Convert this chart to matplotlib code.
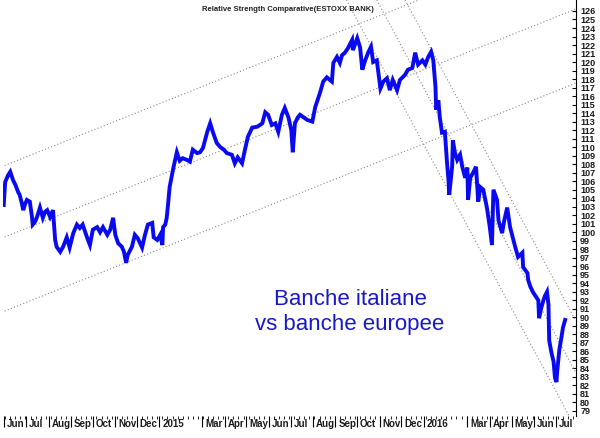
import matplotlib
matplotlib.use("Agg")
import matplotlib.pyplot as plt
import matplotlib.dates as mdates
from matplotlib.transforms import ScaledTranslation
import pandas as pd

# Relative strength: Italian banks vs ESTOXX BANK
dates = [
    "2014-05-31", "2014-06-02", "2014-06-06", "2014-06-09", "2014-06-13", "2014-06-16",
    "2014-06-20", "2014-06-22", "2014-06-25", "2014-06-27", "2014-06-29", "2014-07-02",
    "2014-07-06", "2014-07-09", "2014-07-10", "2014-07-13", "2014-07-16", "2014-07-20",
    "2014-07-24", "2014-07-27", "2014-07-30", "2014-08-03", "2014-08-07", "2014-08-08",
    "2014-08-10", "2014-08-12", "2014-08-17", "2014-08-21", "2014-08-26", "2014-08-30",
    "2014-09-04", "2014-09-09", "2014-09-13", "2014-09-17", "2014-09-23", "2014-09-27",
    "2014-10-01", "2014-10-07", "2014-10-11", "2014-10-15", "2014-10-21", "2014-10-25",
    "2014-10-29", "2014-11-01", "2014-11-05", "2014-11-10", "2014-11-13", "2014-11-16",
    "2014-11-18", "2014-11-24", "2014-11-28", "2014-12-02", "2014-12-08", "2014-12-12",
    "2014-12-16", "2014-12-22", "2014-12-24", "2014-12-29", "2015-01-02", "2015-01-05",
    "2015-01-06", "2015-01-09", "2015-01-11", "2015-01-13", "2015-01-15", "2015-01-20",
    "2015-01-25", "2015-01-29", "2015-02-02", "2015-02-08", "2015-02-12", "2015-02-16",
    "2015-02-22", "2015-02-26", "2015-03-02", "2015-03-08", "2015-03-12", "2015-03-16",
    "2015-03-21", "2015-03-26", "2015-03-31", "2015-04-04", "2015-04-11", "2015-04-15",
    "2015-04-19", "2015-04-25", "2015-04-29", "2015-05-03", "2015-05-09", "2015-05-16",
    "2015-05-23", "2015-05-27", "2015-05-31", "2015-06-05", "2015-06-10", "2015-06-14",
    "2015-06-19", "2015-06-23", "2015-06-28", "2015-07-02", "2015-07-04", "2015-07-07",
    "2015-07-11", "2015-07-14", "2015-07-24", "2015-07-31", "2015-08-04", "2015-08-11",
    "2015-08-15", "2015-08-20", "2015-08-27", "2015-08-29", "2015-09-03", "2015-09-07",
    "2015-09-10", "2015-09-14", "2015-09-18", "2015-09-24", "2015-09-25", "2015-10-01",
    "2015-10-05", "2015-10-08", "2015-10-12", "2015-10-16", "2015-10-20", "2015-10-23",
    "2015-10-28", "2015-11-02", "2015-11-06", "2015-11-11", "2015-11-15", "2015-11-19",
    "2015-11-25", "2015-11-29", "2015-12-06", "2015-12-10", "2015-12-16", "2015-12-20",
    "2015-12-24", "2015-12-30", "2016-01-03", "2016-01-07", "2016-01-11", "2016-01-14",
    "2016-01-17", "2016-01-18", "2016-01-21", "2016-01-23", "2016-01-26", "2016-01-30",
    "2016-02-02", "2016-02-04", "2016-02-05", "2016-02-09", "2016-02-10", "2016-02-13",
    "2016-02-16", "2016-02-20", "2016-02-23", "2016-02-27", "2016-03-01", "2016-03-02",
    "2016-03-05", "2016-03-09", "2016-03-13", "2016-03-16", "2016-03-19", "2016-03-23",
    "2016-03-28", "2016-04-01", "2016-04-04", "2016-04-06", "2016-04-11", "2016-04-13",
    "2016-04-18", "2016-04-21", "2016-04-25", "2016-04-29", "2016-05-06", "2016-05-10",
    "2016-05-16", "2016-05-17", "2016-05-23", "2016-05-24", "2016-05-27", "2016-05-31",
    "2016-06-04", "2016-06-07", "2016-06-08", "2016-06-11", "2016-06-14", "2016-06-16",
    "2016-06-19", "2016-06-21", "2016-06-22", "2016-06-25", "2016-06-28", "2016-06-30",
    "2016-07-02", "2016-07-03", "2016-07-06", "2016-07-09", "2016-07-11", "2016-07-14",
]
values = [
    103.2, 105.9, 106.7, 107.1, 106.1, 105.6,
    104.7, 104.4, 103.4, 102.6, 103.2, 103.8,
    103.6, 101.8, 100.9, 101.2, 101.8, 102.9,
    101.7, 102.4, 102.6, 101.8, 102.6, 101.4,
    99.1, 98.3, 97.7, 98.3, 99.4, 98.2,
    99.9, 100.9, 100.5, 100.9, 99.4, 98.5,
    100.3, 100.6, 100.0, 100.6, 99.7, 100.3,
    101.7, 99.7, 98.7, 98.3, 97.7, 96.4,
    97.3, 98.3, 99.7, 99.3, 98.2, 99.7,
    100.9, 101.1, 99.4, 99.1, 99.7, 98.5,
    100.6, 100.9, 101.7, 103.4, 105.3, 107.5,
    109.4, 108.4, 108.7, 108.5, 108.3, 109.7,
    109.3, 109.4, 109.9, 111.8, 112.8, 111.7,
    110.5, 110.0, 109.7, 109.3, 109.1, 108.1,
    108.8, 108.1, 109.7, 111.2, 112.3, 112.4,
    112.8, 114.1, 113.8, 112.6, 112.8, 111.8,
    113.8, 114.6, 113.5, 112.0, 109.4, 112.8,
    113.5, 113.8, 113.2, 113.0, 114.7, 116.5,
    117.7, 118.2, 117.7, 119.9, 120.6, 119.9,
    120.8, 121.1, 121.6, 122.6, 121.4, 122.8,
    121.7, 119.1, 120.2, 121.1, 121.8, 120.0,
    120.2, 116.9, 117.7, 118.1, 116.7, 117.9,
    116.7, 117.9, 118.5, 119.1, 119.3, 121.1,
    119.7, 120.2, 119.7, 120.6, 121.2, 120.2,
    117.1, 114.4, 115.5, 113.5, 111.7, 111.8,
    108.1, 106.1, 104.4, 107.7, 110.8, 109.3,
    108.5, 109.1, 107.7, 106.4, 107.6, 103.8,
    106.4, 107.0, 107.7, 103.6, 105.3, 105.0,
    102.9, 100.6, 98.5, 105.0, 103.8, 101.4,
    99.9, 101.4, 102.9, 100.6, 98.3, 97.1,
    97.6, 95.9, 95.2, 94.4, 93.6, 92.9,
    92.4, 92.0, 89.9, 91.1, 92.0, 92.5,
    93.0, 91.5, 87.3, 85.9, 84.8, 82.9,
    82.4, 83.6, 86.2, 87.7, 88.8, 89.7,
]

# trend channels: each line is (start date, end date) / (start value, end value)
up_channel_dates = [("2014-05-28", "2015-12-24"), ("2014-05-28", "2016-07-28"), ("2014-05-28", "2016-07-28")]
up_channel_values = [(107.7, 127.25), (99.3, 126.2), (90.6, 117.5)]
down_channel_dates = [("2015-09-16", "2016-07-19"), ("2015-10-28", "2016-07-28"), ("2015-12-06", "2016-07-28")]
down_channel_values = [(127.3, 78.5), (127.3, 83.6), (127.3, 89.7)]

month_ticks = ["2014-06-01", "2014-07-01", "2014-08-01", "2014-09-01", "2014-10-01", "2014-11-01",
               "2014-12-01", "2015-01-01", "2015-03-01", "2015-04-01", "2015-05-01", "2015-06-01",
               "2015-07-01", "2015-08-01", "2015-09-01", "2015-10-01", "2015-11-01", "2015-12-01",
               "2016-01-01", "2016-03-01", "2016-04-01", "2016-05-01", "2016-06-01", "2016-07-01"]
month_labels = ["Jun", "Jul", "Aug", "Sep", "Oct", "Nov", "Dec", "2015", "Mar", "Apr", "May", "Jun",
                "Jul", "Aug", "Sep", "Oct", "Nov", "Dec", "2016", "Mar", "Apr", "May", "Jun", "Jul"]

plt.rcParams['font.family'] = ['Liberation Sans', 'DejaVu Sans']

fig = plt.figure(figsize=(6.0, 4.38), dpi=100)
ax = fig.add_axes([0.005, 0.0502, 0.955, 0.9498])

for (d0, d1), (v0, v1) in zip(up_channel_dates + down_channel_dates, up_channel_values + down_channel_values):
    ax.plot(pd.to_datetime([d0, d1]), [v0, v1], color="#8a8a8a", lw=0.8, ls=(0, (1, 2)))

ax.plot(pd.to_datetime(dates), values, color="#0a0af0", lw=2.8, solid_joinstyle="miter")

ax.set_xlim(pd.Timestamp("2014-05-30"), pd.Timestamp("2016-07-29"))
ax.set_ylim(78.41, 127.29)

# y axis on the right
ax.yaxis.tick_right()
ax.set_yticks(range(79, 127))
ax.tick_params(axis="y", direction="in", length=3, width=0.8, pad=3, labelsize=6.5)
for lbl in ax.get_yticklabels():
    lbl.set_fontweight("bold")
    lbl.set_color("#1a1a1a")

# x axis: month ticks with left-aligned labels, weekly minor ticks
ax.set_xticks(pd.to_datetime(month_ticks))
ax.set_xticklabels(month_labels)
ax.xaxis.set_minor_locator(mdates.WeekdayLocator(byweekday=mdates.MO))
ax.tick_params(axis="x", which="major", direction="out", length=8, width=0.8, pad=-5.8, labelsize=7)
ax.tick_params(axis="x", which="minor", direction="out", length=2, width=0.6)
offset = ScaledTranslation(2 / 72, 0, fig.dpi_scale_trans)
for lbl in ax.get_xticklabels():
    lbl.set_horizontalalignment("left")
    lbl.set_transform(lbl.get_transform() + offset)
    lbl.set_fontweight("bold")
    lbl.set_color("#1a1a1a")

for side in ["top", "left", "bottom"]:
    ax.spines[side].set_visible(False)
ax.spines["right"].set_linewidth(0.8)

ax.text(0.4965, 0.976, "Relative Strength Comparative(ESTOXX BANK)", transform=ax.transAxes,
        ha="center", va="center", fontsize=5.5, fontweight="bold", color="#222222")
ax.text(0.6056, 0.25, "Banche italiane\nvs banche europee", transform=ax.transAxes,
        ha="center", va="center", fontsize=16, color="#1818c8", linespacing=1.25)

fig.savefig("out.png", dpi=100)
